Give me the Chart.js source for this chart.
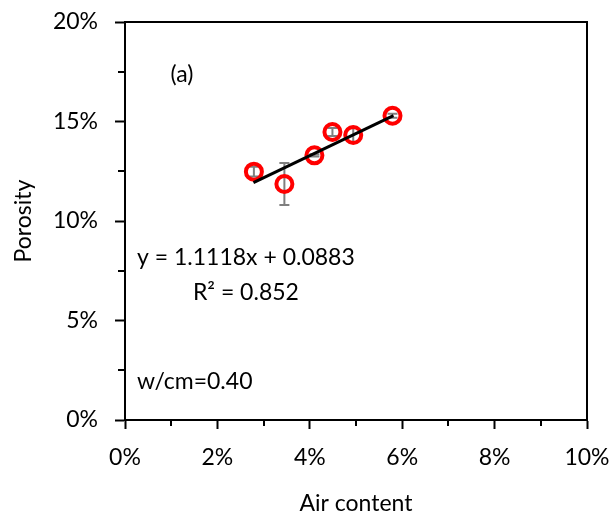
<!DOCTYPE html>
<html>
<head>
<title>Porosity vs air content</title>
<script src="https://cdn.jsdelivr.net/npm/chart.js@4.4.0/dist/chart.umd.min.js"></script>
<style type="text/css">
  body { margin: 0; background: #fff; }
  #chart-container { width: 613px; height: 517px; }
</style>
</head>
<body>
<div id="chart-container">
  <canvas id="mycanvas" width="613" height="517"></canvas>
</div>
<script>
// measured points (fractions)
var airContent  = [0.0279, 0.0345, 0.0410, 0.0449, 0.0494, 0.0579];
var porosity    = [0.1248, 0.1186, 0.1330, 0.1447, 0.1432, 0.1529];
var porosityErr = [0.0025, 0.0106, 0.0006, 0.0020, 0.0036, 0.0010];

// trendline end points
var trendX = [0.0278, 0.0581];
var trendY = [0.1193, 0.1530];

var xTickValues = [0, 0.02, 0.04, 0.06, 0.08, 0.10];
var xTickLabels = ['0%', '2%', '4%', '6%', '8%', '10%'];
var yTickValues = [0, 0.05, 0.10, 0.15, 0.20];
var yTickLabels = ['0%', '5%', '10%', '15%', '20%'];

var eqText = 'y = 1.1118x + 0.0883';
var r2Text = 'R\u00b2 = 0.852';
var panelText = '(a)';
var mixText = 'w/cm=0.40';

var FONT = 'Lato, "Open Sans", sans-serif';
var FSIZE = 23;

function labelFor(v, values, labels) {
  for (var i = 0; i < values.length; i++) {
    if (Math.abs(values[i] - v) < 1e-6) return labels[i];
  }
  return '';
}

function toPoints(xs, ys) {
  var out = [];
  for (var i = 0; i < xs.length; i++) out.push({x: xs[i], y: ys[i]});
  return out;
}

// error bars, minor ticks, frame and text boxes
var extras = {
  id: 'extras',
  beforeDatasetsDraw: function(chart) {
    var ctx = chart.ctx, xs = chart.scales.x, ys = chart.scales.y;
    ctx.save();
    ctx.strokeStyle = '#7f7f7f';
    ctx.lineWidth = 2;
    for (var i = 0; i < airContent.length; i++) {
      var px = xs.getPixelForValue(airContent[i]);
      var top = ys.getPixelForValue(porosity[i] + porosityErr[i]);
      var bot = ys.getPixelForValue(porosity[i] - porosityErr[i]);
      ctx.beginPath();
      ctx.moveTo(px, top); ctx.lineTo(px, bot);
      ctx.moveTo(px - 5, top); ctx.lineTo(px + 5, top);
      ctx.moveTo(px - 5, bot); ctx.lineTo(px + 5, bot);
      ctx.stroke();
    }
    ctx.restore();
  },
  afterDraw: function(chart) {
    var ctx = chart.ctx, a = chart.chartArea;
    var xs = chart.scales.x, ys = chart.scales.y;
    ctx.save();
    ctx.strokeStyle = '#000';
    ctx.lineWidth = 2;
    ctx.beginPath();
    ctx.moveTo(a.left, a.top); ctx.lineTo(a.right, a.top); ctx.lineTo(a.right, a.bottom);
    ctx.stroke();
    // minor ticks
    ctx.beginPath();
    for (var v = 0.01; v < 0.1; v += 0.02) {
      var px = Math.round(xs.getPixelForValue(v));
      ctx.moveTo(px, a.bottom); ctx.lineTo(px, a.bottom + 6);
    }
    for (var w = 0.025; w < 0.2; w += 0.05) {
      var py = Math.round(ys.getPixelForValue(w));
      ctx.moveTo(a.left, py); ctx.lineTo(a.left - 7, py);
    }
    ctx.stroke();

    ctx.fillStyle = '#000';
    ctx.textBaseline = 'middle';
    ctx.font = FSIZE + 'px ' + FONT;
    ctx.textAlign = 'center';
    ctx.fillText(panelText, 182, 75);
    ctx.textAlign = 'left';
    ctx.fillText(eqText, 137, 258);
    var mid = 137 + ctx.measureText(eqText).width / 2;
    ctx.textAlign = 'center';
    ctx.fillText(r2Text, mid, 293);
    ctx.textAlign = 'left';
    ctx.fillText(mixText, 137, 382);
    ctx.restore();
  }
};

Chart.defaults.font.family = FONT;
Chart.defaults.color = '#000';

var ctx = document.getElementById('mycanvas');
var chart = new Chart(ctx, {
  type: 'scatter',
  data: {
    datasets: [
      {
        label: 'Trendline',
        type: 'line',
        data: toPoints(trendX, trendY),
        borderColor: '#000',
        borderWidth: 3,
        pointRadius: 0,
        fill: false,
        order: 0
      },
      {
        label: 'Porosity',
        data: toPoints(airContent, porosity),
        pointStyle: 'circle',
        pointRadius: 8,
        pointBorderWidth: 4,
        pointBorderColor: '#ff0000',
        pointBackgroundColor: 'rgba(0,0,0,0)',
        borderColor: '#ff0000',
        backgroundColor: 'rgba(0,0,0,0)',
        order: 1
      }
    ]
  },
  options: {
    responsive: false,
    animation: false,
    layout: { padding: { left: 0, right: 26, top: 22, bottom: 0 } },
    plugins: {
      legend: { display: false },
      tooltip: { enabled: false }
    },
    scales: {
      x: {
        type: 'linear',
        min: 0, max: 0.10,
        border: { display: true, color: '#000', width: 2 },
        grid: { drawOnChartArea: false, tickLength: 9, tickWidth: 2, color: '#000',
          tickColor: function(c) { return labelFor(c.tick.value, xTickValues, xTickLabels) ? '#000' : 'rgba(0,0,0,0)'; } },
        ticks: {
          stepSize: 0.01,
          autoSkip: false,
          maxRotation: 0,
          padding: 15,
          font: { size: FSIZE },
          callback: function(v) { return labelFor(v, xTickValues, xTickLabels); }
        },
        title: { display: true, text: 'Air content', font: { size: FSIZE }, padding: { top: 6, bottom: 0 } },
        afterFit: function(s) { s.height = 97; s.paddingLeft = 0; s.paddingRight = 0; }
      },
      y: {
        type: 'linear',
        min: 0, max: 0.20,
        border: { display: true, color: '#000', width: 2 },
        grid: { drawOnChartArea: false, tickLength: 10, tickWidth: 2, color: '#000',
          tickColor: function(c) { return labelFor(c.tick.value, yTickValues, yTickLabels) ? '#000' : 'rgba(0,0,0,0)'; } },
        ticks: {
          stepSize: 0.025,
          autoSkip: false,
          padding: 17,
          font: { size: FSIZE },
          callback: function(v) { return labelFor(v, yTickValues, yTickLabels); }
        },
        title: { display: true, text: 'Porosity', font: { size: FSIZE }, padding: { top: 10, bottom: 0 } },
        afterFit: function(s) { s.width = 125; s.paddingTop = 0; s.paddingBottom = 0; }
      }
    }
  },
  plugins: [extras]
});
</script>
</body>
</html>
